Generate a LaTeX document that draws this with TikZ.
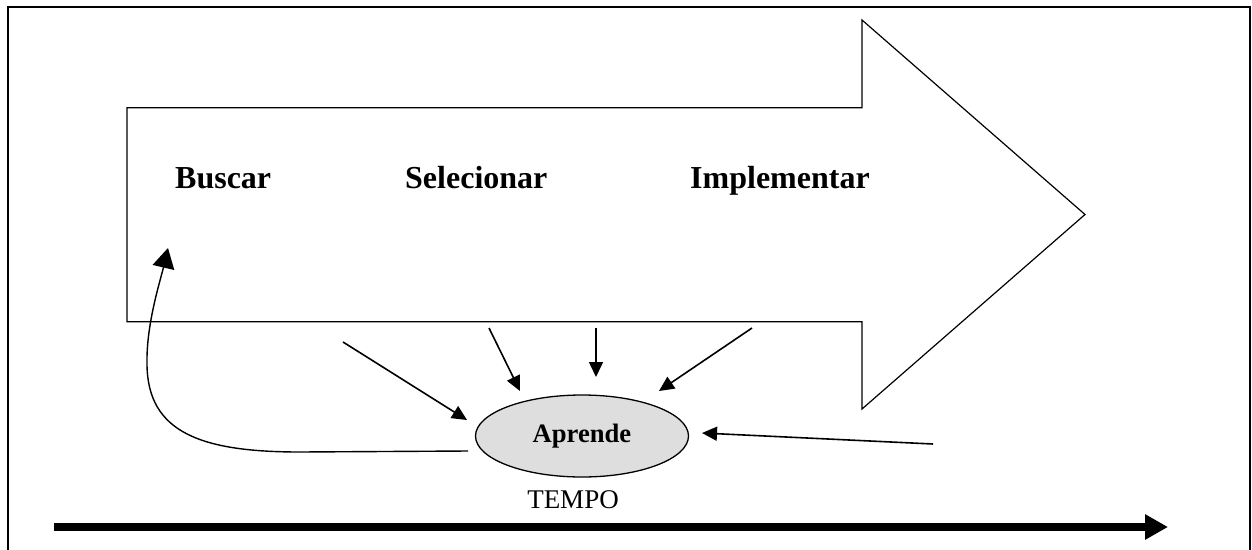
\documentclass[tikz,border=0pt]{standalone}
\usepackage{fontspec}
\setmainfont{Liberation Serif}
\usetikzlibrary{arrows.meta,shapes.geometric}
\definecolor{ellgray}{HTML}{DEDEDE}
\begin{document}
\begin{tikzpicture}[x=1pt,y=-1pt,
  frame/.style={line width=2pt},
  bigarrow/.style={line width=1.2pt, line join=miter},
  stagelabel/.style={anchor=base west, inner sep=0pt, font=\fontsize{32}{38}\selectfont\bfseries},
  smallarrow/.style={line width=1.6pt, -{Triangle[length=15pt,width=14pt]}},
  looparrow/.style={line width=1.4pt, -{Triangle[length=20pt,width=22pt]}},
  timearrow/.style={line width=7.5pt, -{Triangle[length=23pt,width=24pt]}},
  learn/.style={ellipse, draw, line width=1.3pt, fill=ellgray, minimum width=213pt, minimum height=82pt, inner sep=0pt, font=\fontsize{26.6}{32}\selectfont\bfseries}
]
\useasboundingbox (0,0) rectangle (1252,549);
% frame
\draw[frame] (8,552) -- (8,7) -- (1250,7) -- (1250,552);
% big arrow
\draw[bigarrow] (127,107.7) -- (862,107.7) -- (862,20) -- (1085,214.5) -- (862,409) -- (862,321.7) -- (127,321.7) -- cycle;
% stage labels
\node[stagelabel] (buscar) at (175,188) {Buscar};
\node[stagelabel] (selec) at (405,188) {Selecionar};
\node[stagelabel] (impl) at (690,188) {Implementar};
% ellipse
\node[learn] (aprende) at (582,436) {Aprende};
% tempo
\node[inner sep=0pt, font=\fontsize{27}{32}\selectfont] (tempo) at (573,500) {TEMPO};
% arrow endpoints
\coordinate (s1) at (343,342); \coordinate (e1) at (467,420);
\coordinate (s2) at (489,328); \coordinate (e2) at (520,391);
\coordinate (s3) at (596,328); \coordinate (e3) at (596,377);
\coordinate (s4) at (752,328); \coordinate (e4) at (659,391);
\coordinate (s5) at (933,444); \coordinate (e5) at (702,433);
\coordinate (s6) at (468,451); \coordinate (m6) at (300,452);
\coordinate (l6) at (147,365); \coordinate (e6) at (168,248);
\draw[smallarrow] (s1) -- (e1);
\draw[smallarrow] (s2) -- (e2);
\draw[smallarrow] (s3) -- (e3);
\draw[smallarrow] (s4) -- (e4);
\draw[smallarrow] (s5) -- (e5);
\draw[looparrow] (s6) -- (m6) .. controls (200,452) and (148,432) .. (l6) .. controls (146,325) and (160,282) .. (e6);
% time arrow
\coordinate (t0) at (54,527); \coordinate (t1) at (1168,527);
\draw[timearrow] (t0) -- (t1);
\end{tikzpicture}
\end{document}
